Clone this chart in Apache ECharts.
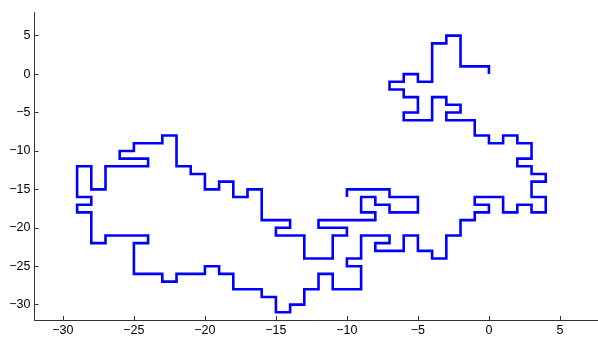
<!DOCTYPE html>
<html>
<head>
<meta charset="utf-8">
<script src="https://cdn.jsdelivr.net/npm/echarts@6/dist/echarts.min.js"></script>
<style>html,body{margin:0;padding:0;background:#fff;}#c{width:598px;height:338px;}</style>
</head>
<body>
<div id="c"></div>
<script>
// Lattice walk vertices (x, y)
const pathX = [0,0,-2,-2,-3,-3,-4,-4,-5,-5,-6,-6,-7,-7,-6,-6,-5,-5,-6,-6,-4,-4,-3,-3,-2,-2,-3,-3,-1,-1,0,0,1,1,2,2,3,3,2,2,3,3,4,4,3,3,4,4,3,3,2,2,1,1,-1,-1,0,0,-1,-1,-2,-2,-3,-3,-4,-4,-5,-5,-6,-6,-8,-8,-7,-7,-9,-9,-10,-10,-9,-9,-11,-11,-12,-12,-13,-13,-14,-14,-15,-15,-16,-16,-18,-18,-19,-19,-20,-20,-22,-22,-23,-23,-25,-25,-24,-24,-27,-27,-28,-28,-29,-29,-28,-28,-29,-29,-28,-28,-27,-27,-24,-24,-26,-26,-25,-25,-23,-23,-22,-22,-21,-21,-20,-20,-19,-19,-18,-18,-17,-17,-16,-16,-14,-14,-15,-15,-13,-13,-11,-11,-10,-10,-12,-12,-8,-8,-9,-9,-8,-8,-7,-7,-5,-5,-7,-7,-10,-10];
const pathY = [0,1,1,5,5,4,4,-1,-1,0,0,-1,-1,-2,-2,-3,-3,-5,-5,-6,-6,-3,-3,-4,-4,-5,-5,-6,-6,-8,-8,-9,-9,-8,-8,-9,-9,-11,-11,-12,-12,-13,-13,-14,-14,-16,-16,-18,-18,-17,-17,-18,-18,-16,-16,-17,-17,-18,-18,-19,-19,-21,-21,-24,-24,-23,-23,-21,-21,-23,-23,-22,-22,-21,-21,-24,-24,-25,-25,-28,-28,-26,-26,-28,-28,-30,-30,-31,-31,-29,-29,-28,-28,-26,-26,-25,-25,-26,-26,-27,-27,-26,-26,-22,-22,-21,-21,-22,-22,-18,-18,-17,-17,-16,-16,-12,-12,-15,-15,-12,-12,-11,-11,-10,-10,-9,-9,-8,-8,-12,-12,-13,-13,-15,-15,-14,-14,-16,-16,-15,-15,-19,-19,-20,-20,-21,-21,-24,-24,-21,-21,-20,-20,-19,-19,-18,-18,-16,-16,-17,-17,-18,-18,-16,-16,-15,-15,-16];
const xTicks = [-30,-25,-20,-15,-10,-5,0,5];
const yTicks = [-30,-25,-20,-15,-10,-5,0,5];

const pts = pathX.map((x, i) => [x, pathY[i]]);
const fmt = v => String(v).replace('-', '\u2212');
const chart = echarts.init(document.getElementById('c'), null, {renderer: 'canvas'});
const axisCommon = {
  type: 'value',
  splitLine: {show: false},
  axisLine: {show: true, onZero: false, lineStyle: {color: '#333', width: 1}},
  axisTick: {show: true, inside: true, length: 4, lineStyle: {color: '#333'}},
  axisLabel: {color: '#000', fontFamily: 'Liberation Sans, Arial, sans-serif', fontSize: 12.5, margin: 4, formatter: fmt}
};
chart.setOption({
  animation: false,
  grid: {left: 34.5, right: 0, top: 12.6, bottom: 18, containLabel: false},
  xAxis: Object.assign({}, axisCommon, {
    min: -32, max: 7.68,
    axisTick: Object.assign({}, axisCommon.axisTick, {customValues: xTicks}),
    axisLabel: Object.assign({}, axisCommon.axisLabel, {customValues: xTicks})
  }),
  yAxis: Object.assign({}, axisCommon, {
    min: -32, max: 8,
    axisTick: Object.assign({}, axisCommon.axisTick, {customValues: yTicks}),
    axisLabel: Object.assign({}, axisCommon.axisLabel, {customValues: yTicks})
  }),
  series: [{
    type: 'line', data: pts, showSymbol: false, silent: true,
    lineStyle: {color: '#0000ff', width: 2.6, join: 'miter'}
  }]
});
</script>
</body>
</html>
